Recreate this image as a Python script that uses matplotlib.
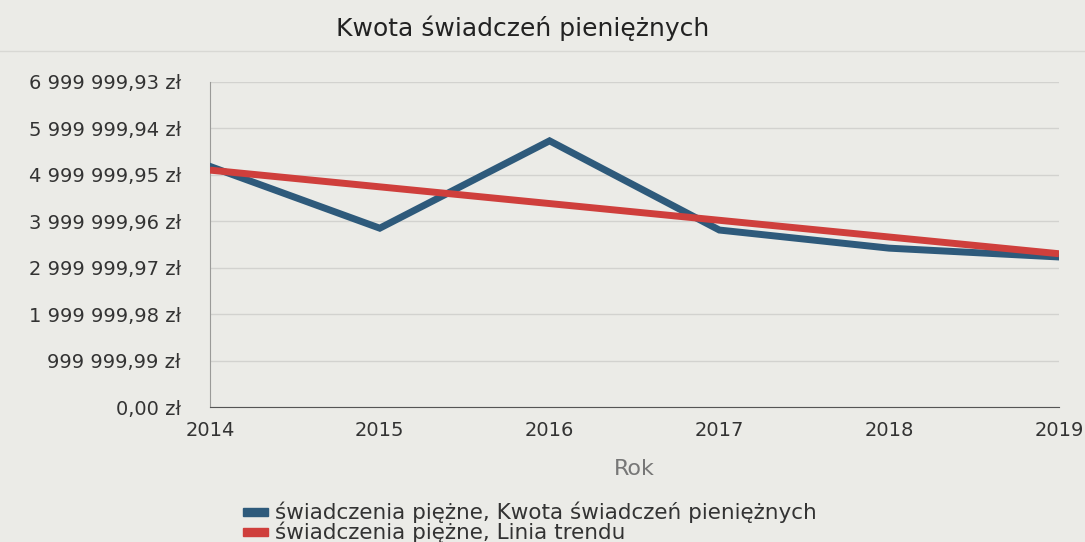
import numpy as np
import matplotlib.pyplot as plt
from matplotlib.patches import Rectangle

plt.rcParams['font.family'] = ['DejaVu Sans']

years = [2014, 2015, 2016, 2017, 2018, 2019]
kwota = [5180000, 3850000, 5730000, 3810000, 3420000, 3230000]
trend_years = [2014, 2019]
trend = [5100000, 3300000]

step = 999999.99
yticks = [i * step for i in range(8)]
ylabels = ['0,00 zł', '999 999,99 zł', '1 999 999,98 zł', '2 999 999,97 zł',
           '3 999 999,96 zł', '4 999 999,95 zł', '5 999 999,94 zł', '6 999 999,93 zł']
legend_labels = ['świadczenia piężne, Kwota świadczeń pieniężnych',
                 'świadczenia piężne, Linia trendu']

bg = '#ebebe7'
blue = '#2e5a7b'
red = '#cf3f3c'

fig = plt.figure(figsize=(10.85, 5.42), dpi=100, facecolor=bg)
ax = fig.add_axes([0.1935, 0.249, 0.7825, 0.600])
ax.set_facecolor(bg)

ax.plot(years, kwota, color=blue, lw=5, solid_joinstyle='miter', zorder=3)
ax.plot(trend_years, trend, color=red, lw=5, solid_capstyle='butt', zorder=4)

ax.set_xlim(2014, 2019)
ax.set_ylim(0, yticks[-1])
ax.set_yticks(yticks)
ax.set_yticklabels(ylabels)
ax.set_xticks(years)
ax.set_xticklabels([str(y) for y in years])
ax.tick_params(length=0, labelsize=14, colors='#333333')
ax.tick_params(axis='y', pad=21)
ax.tick_params(axis='x', pad=10)
ax.grid(axis='y', color='#d2d2cf', lw=1)
ax.set_axisbelow(True)
for s in ['top', 'right']:
    ax.spines[s].set_visible(False)
ax.spines['left'].set_color('#9a9a98')
ax.spines['bottom'].set_color('#555555')

ax.set_xlabel('Rok', fontsize=16, color='#777777', labelpad=14)

fig.text(0.482, 0.948, 'Kwota świadczeń pieniężnych', ha='center', va='center',
         fontsize=18, color='#222222')
fig.add_artist(plt.Line2D([0, 1], [0.905, 0.905], color='#d8d8d4', lw=1))

# legend drawn by hand below the axis title
for i, (txt, col) in enumerate(zip(legend_labels, [blue, red])):
    yy = 1 - (512 + 20 * i) / 542
    fig.add_artist(Rectangle((243 / 1085, yy - 0.0065), 25 / 1085, 0.013,
                             color=col, transform=fig.transFigure))
    fig.text(275 / 1085, yy, txt, va='center', fontsize=15.5, color='#333333')

fig.savefig('out.png', dpi=100, facecolor=bg)
